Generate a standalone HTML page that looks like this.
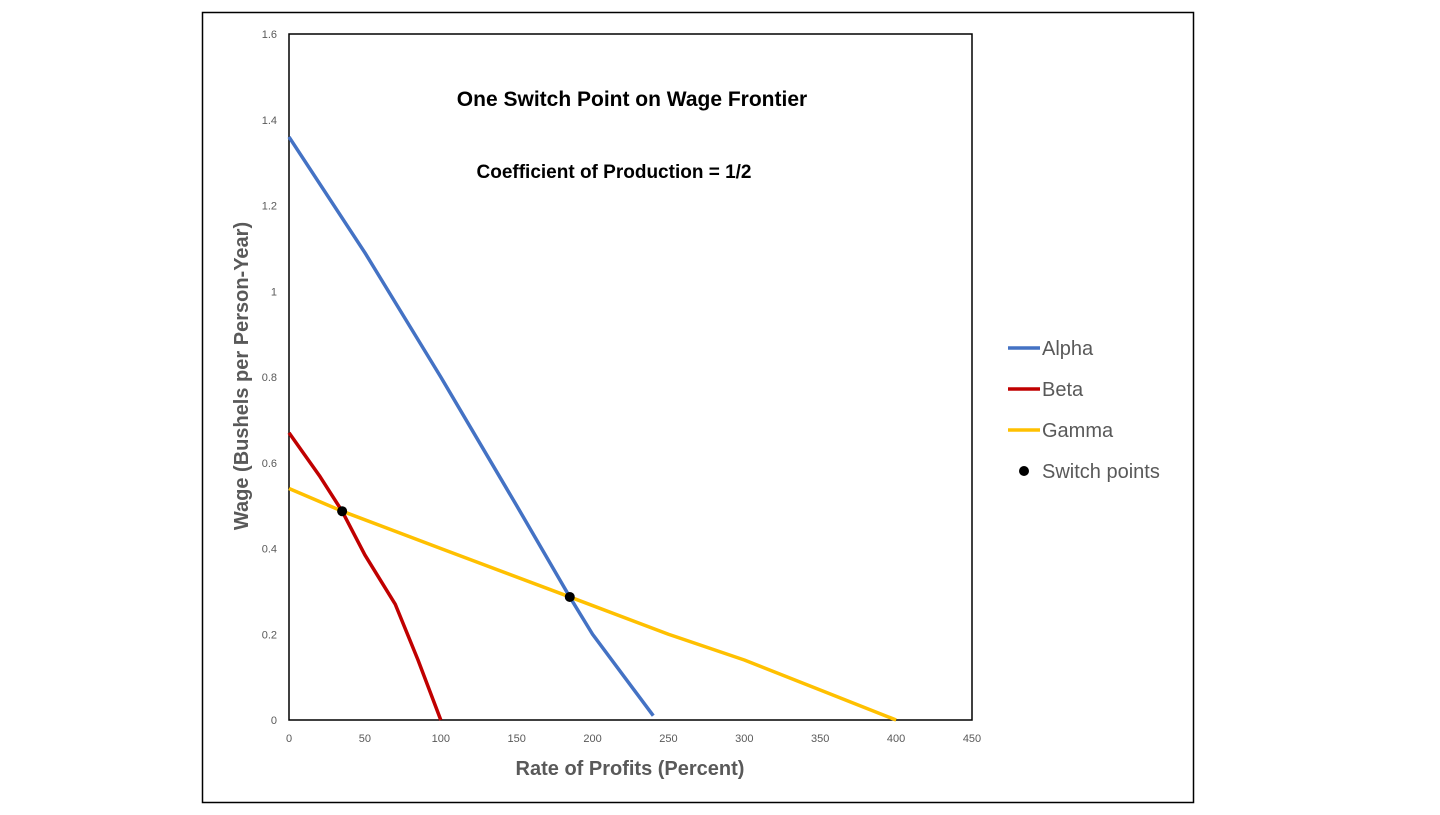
<!DOCTYPE html>
<html><head><meta charset="utf-8"><style>
html,body{margin:0;padding:0;background:#fff;}
body{width:1440px;height:810px;overflow:hidden;font-family:"Liberation Sans",sans-serif;}
</style></head><body>
<svg id="chart" width="1440" height="810" xmlns="http://www.w3.org/2000/svg">
<rect x="202.5" y="12.5" width="991" height="790" fill="#fff" stroke="#000" stroke-width="1.5"/>
<rect x="289" y="34" width="683" height="686" fill="none" stroke="#000" stroke-width="1.5"/>
<text x="632" y="106" text-anchor="middle" font-size="21" font-weight="bold">One Switch Point on Wage Frontier</text>
<text x="614" y="178" text-anchor="middle" font-size="19" font-weight="bold">Coefficient of Production = 1/2</text>
<text transform="translate(248,376) rotate(-90)" text-anchor="middle" font-size="20" font-weight="bold" fill="#595959">Wage (Bushels per Person-Year)</text>
<text x="630" y="775" text-anchor="middle" font-size="20" font-weight="bold" fill="#595959">Rate of Profits (Percent)</text>
<g id="ticks"></g>
<g id="series"></g>
<g id="legend"></g>
</svg>
<script>
const xTicks=[0,50,100,150,200,250,300,350,400,450];
const yTicks=[0,0.2,0.4,0.6,0.8,1,1.2,1.4,1.6];
const alphaR=[0,50,100,150,185,200,240];
const alphaW=[1.36,1.09,0.80,0.50,0.287,0.20,0.01];
const betaR=[0,20,35,50,70,85,100];
const betaW=[0.67,0.57,0.487,0.385,0.27,0.14,0];
const gammaR=[0,35,100,185,250,300,350,400];
const gammaW=[0.54,0.487,0.40,0.287,0.20,0.14,0.07,0];
const switchR=[35,185];
const switchW=[0.487,0.287];
const X0=289,X1=972,Y0=720,Y1=34;
const sx=v=>X0+(v/450)*(X1-X0);
const sy=v=>Y0-(v/1.6)*(Y0-Y1);
const NS="http://www.w3.org/2000/svg";
const tg=document.getElementById('ticks');
xTicks.forEach(t=>{const e=document.createElementNS(NS,'text');


e.setAttribute('x',sx(t));e.setAttribute('y',Y0+22);e.setAttribute('text-anchor','middle');e.setAttribute('font-size','11');e.setAttribute('fill','#595959');e.textContent=t;tg.appendChild(e);});
yTicks.forEach(t=>{const e=document.createElementNS(NS,'text');


e.setAttribute('x',X0-12);e.setAttribute('y',sy(t)+4);e.setAttribute('text-anchor','end');e.setAttribute('font-size','11');e.setAttribute('fill','#595959');e.textContent=t;tg.appendChild(e);});
const sg=document.getElementById('series');
function line(rs,ws,color,name){const p=document.createElementNS(NS,'polyline');


p.setAttribute('points',rs.map((r,i)=>sx(r)+','+sy(ws[i])).join(' '));
p.setAttribute('fill','none');p.setAttribute('stroke',color);p.setAttribute('stroke-width','3.5');p.setAttribute('stroke-linejoin','round');sg.appendChild(p);}
line(alphaR,alphaW,'#4472C4','alpha-line');
line(betaR,betaW,'#C00000','beta-line');
line(gammaR,gammaW,'#FFC000','gamma-line');
switchR.forEach((r,i)=>{const c=document.createElementNS(NS,'circle');


c.setAttribute('cx',sx(r));c.setAttribute('cy',sy(switchW[i]));c.setAttribute('r','5');c.setAttribute('fill','#000');sg.appendChild(c);});
const lg=document.getElementById('legend');
const legendLabels=['Alpha','Beta','Gamma','Switch points'];
const legendColors=['#4472C4','#C00000','#FFC000','#000'];
legendLabels.forEach((l,i)=>{const y=348+i*41;
if(i<3){const ln=document.createElementNS(NS,'line');


ln.setAttribute('x1',1008);ln.setAttribute('x2',1040);ln.setAttribute('y1',y);ln.setAttribute('y2',y);ln.setAttribute('stroke',legendColors[i]);ln.setAttribute('stroke-width','3.5');lg.appendChild(ln);}
else{const c=document.createElementNS(NS,'circle');


c.setAttribute('cx',1024);c.setAttribute('cy',y);c.setAttribute('r','5');c.setAttribute('fill','#000');lg.appendChild(c);}
const t=document.createElementNS(NS,'text');


t.setAttribute('x',1042);t.setAttribute('y',y+7);t.setAttribute('font-size','20');t.setAttribute('fill','#595959');t.textContent=l;lg.appendChild(t);});
</script>
</body></html>
